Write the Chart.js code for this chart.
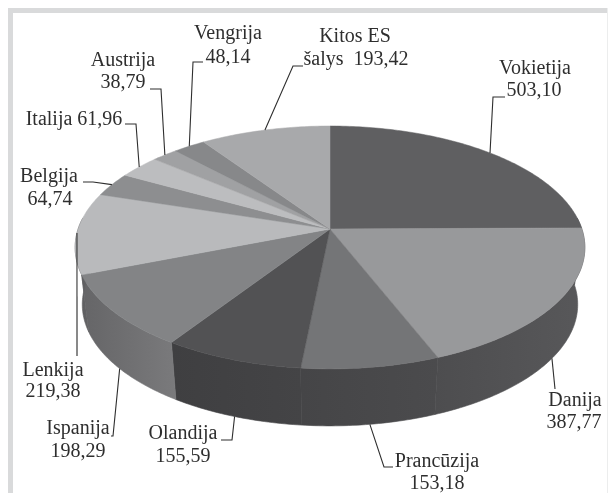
<!DOCTYPE html>
<html><head><meta charset="utf-8">
<script src="https://cdn.jsdelivr.net/npm/chart.js@4"></script>
<style>
html,body{margin:0;padding:0;background:#fff;overflow:hidden}
#wrap{position:absolute;left:0;top:0;width:608px;height:493px}
#frameTop{position:absolute;left:8px;top:8px;width:600px;height:5px;background:#d9dadb}
#frameLeft{position:absolute;left:8px;top:8px;width:5px;height:485px;background:#d9dadb}
#frameRight{position:absolute;left:607px;top:8px;width:1px;height:485px;background:#eceded}
canvas{position:absolute;left:0;top:0;filter:blur(0.5px)}
</style></head><body>
<div id="wrap"><div id="frameTop"></div><div id="frameLeft"></div><div id="frameRight"></div><canvas id="c" width="608" height="493"></canvas></div>
<script>
const countries = ["Vokietija","Danija","Prancūzija","Olandija","Ispanija","Lenkija","Belgija","Italija","Austrija","Vengrija","Kitos ES šalys"];
const values = [503.10,387.77,153.18,155.59,198.29,219.38,64.74,61.96,38.79,48.14,193.42];
const valueLabels = ["503,10","387,77","153,18","155,59","198,29","219,38","64,74","61,96","38,79","48,14","193,42"];
const topColors = ["#5f5f61","#98999b","#747577","#525254","#838486","#b9babc","#8d8e90","#bcbdbf","#a0a1a3","#87888a","#a8a9ab"];
const sideColorsFrom = ["#5a5a5c","#4d4d4f","#454547","#3f3f41","#656567","#58585a","#777","#999","#888","#777","#888"];
const sideColorsTo   = ["#5a5a5c","#58585a","#4b4b4d","#444446","#7a7a7c","#656567","#777","#999","#888","#777","#888"];
// Label placement: text lines as [text, centre x, baseline y], leader path after the rim anchor.
const labelLayout = [
 {lines:[["Vokietija",535,74],["503,10",534,96]], path:[[493,97],[505,97]], rim:"top"},
 {lines:[["Danija",575,406],["387,77",574,428]], path:[[555,389]], rim:"bottom"},
 {lines:[["Prancūzija",437,467],["153,18",437,489]], path:[[384,467],[393,467]], rim:"bottom"},
 {lines:[["Olandija",183,439],["155,59",183,462]], path:[[232,440],[221,440]], rim:"bottom"},
 {lines:[["Ispanija",78,434],["198,29",78,457]], path:[[113,436],[111,436]], rim:"bottom"},
 {lines:[["Lenkija",53,376],["219,38",53,397]], path:[[77,356]], rim:"top"},
 {lines:[["Belgija",49,182],["64,74",50,205]], path:[[93,182],[83,182]], rim:"top"},
 {lines:[["Italija 61,96",74,125]], path:[[136,124],[125,124]], rim:"top"},
 {lines:[["Austrija",123,66],["38,79",123,88]], path:[[161,89],[150,89]], rim:"top"},
 {lines:[["Vengrija",228,39],["48,14",228,63]], path:[[193,62],[203,62]], rim:"top"},
 {lines:[["Kitos ES",355,42],["šalys  193,42",356,65]], path:[[293,66],[303,66]], rim:"top"}
];
const SX = 1.1, SY = 0.518, K = 0.152, DEPTH = 57, BASE_SCALE = 0.972;

function project(arc, angle, base){
  const th = angle + Math.PI/2, u = Math.sin(th), v = Math.cos(th), d = 1 + K*v, R = arc.outerRadius;
  const s = base ? BASE_SCALE : 1;
  return [arc.x + s*SX*R*u/d, arc.y - SY*R*v/d + (base ? DEPTH : 0)];
}
function arcPoints(arc, a0, a1, base){
  const n = Math.max(2, Math.ceil(Math.abs(a1-a0)/0.015)), pts = [];
  for(let i=0;i<=n;i++) pts.push(project(arc, a0+(a1-a0)*i/n, base));
  return pts;
}
const pie3d = {
  id:'pie3d',
  beforeDatasetDraw(chart, args){
    const ctx = chart.ctx, arcs = chart.getDatasetMeta(args.index).data;
    const lo = -Math.PI/2 + Math.PI*0.47, hi = -Math.PI/2 + Math.PI*1.53;
    arcs.forEach((arc,i)=>{
      const a0 = Math.max(arc.startAngle, lo), a1 = Math.min(arc.endAngle, hi);
      if(a1 <= a0) return;
      const t = arcPoints(arc,a0,a1,false), b = arcPoints(arc,a0,a1,true).reverse();
      const xs = t.concat(b).map(p=>p[0]);
      const g = ctx.createLinearGradient(Math.min(...xs),0,Math.max(...xs),0);
      g.addColorStop(0, sideColorsFrom[i]);
      g.addColorStop(1, sideColorsTo[i]);
      ctx.beginPath();
      t.concat(b).forEach((p,j)=> j? ctx.lineTo(p[0],p[1]) : ctx.moveTo(p[0],p[1]));
      ctx.closePath();
      ctx.fillStyle = g; ctx.strokeStyle = g; ctx.lineWidth = .6;
      ctx.fill(); ctx.stroke();
    });
    arcs.forEach((arc)=>{
      const t = arcPoints(arc,arc.startAngle,arc.endAngle,false);
      ctx.beginPath(); ctx.moveTo(arc.x,arc.y);
      t.forEach(p=>ctx.lineTo(p[0],p[1]));
      ctx.closePath();
      ctx.fillStyle = arc.options.backgroundColor;
      ctx.strokeStyle = arc.options.backgroundColor; ctx.lineWidth = .5;
      ctx.fill(); ctx.stroke();
    });
    return false;
  },
  afterDatasetsDraw(chart){
    const ctx = chart.ctx, arcs = chart.getDatasetMeta(0).data;
    ctx.save();
    ctx.strokeStyle = '#2e2e2e'; ctx.lineWidth = 1.1; ctx.fillStyle = '#2e2e2e';
    ctx.font = '20px "Liberation Serif"'; ctx.textAlign = 'center'; ctx.textBaseline = 'alphabetic';
    arcs.forEach((arc,i)=>{
      const L = labelLayout[i];
      const p = project(arc,(arc.startAngle+arc.endAngle)/2, L.rim==='bottom');
      ctx.beginPath(); ctx.moveTo(p[0],p[1]);
      L.path.forEach(q=>ctx.lineTo(q[0],q[1]));
      ctx.stroke();
      L.lines.forEach(l=>ctx.fillText(l[0],l[1],l[2]));
    });
    ctx.restore();
  }
};
new Chart(document.getElementById('c'),{
  type:'pie',
  data:{labels:countries,datasets:[{data:values,backgroundColor:topColors,borderWidth:0}]},
  options:{responsive:false,animation:false,rotation:0,
    layout:{padding:{left:78,right:26,top:0,bottom:35}},
    plugins:{legend:{display:false},tooltip:{enabled:false},title:{display:false}}},
  plugins:[pie3d]
});
</script></body></html>
